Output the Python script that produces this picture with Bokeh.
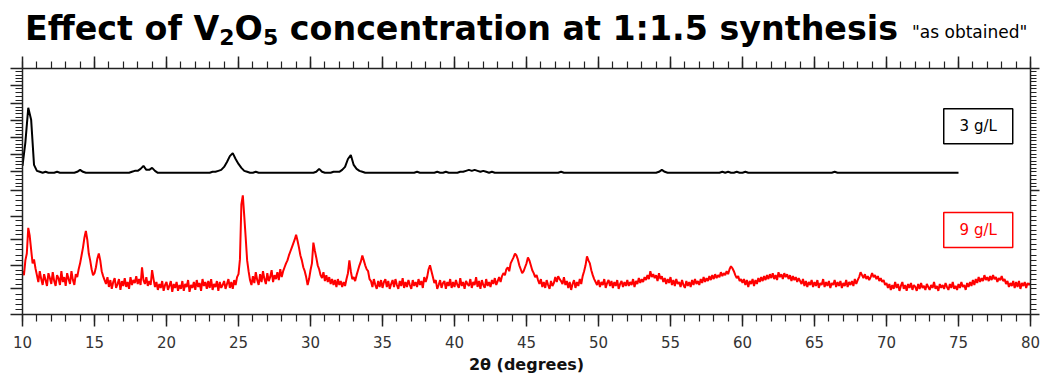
import numpy as np
from bokeh.plotting import figure
from bokeh.layouts import column
from bokeh.models import Range1d, LinearAxis, FixedTicker, Div, CustomLabelingPolicy
from bokeh.embed import file_html
from bokeh.resources import INLINE
from bokeh.core.properties import value

# ---------------- data ----------------
start_3gL, step_3gL = 10.0, 0.2
start_9gL, step_9gL = 10.0, 0.1

# 3 g/L pattern (offset upward), 10.0 .. 75.0 deg, every 0.2 deg
counts_3gL = [
    151, 175, 210, 198, 152, 146, 145, 144, 145, 144,   # 10.0
    144, 144, 145, 144, 144, 144, 144, 144, 144, 145,   # 12.0
    147, 145, 144, 144, 144, 144, 144, 144, 144, 144,   # 14.0
    144, 144, 144, 144, 144, 144, 144, 144, 145, 146,   # 16.0
    146, 148, 151, 147, 147, 149, 146, 144, 144, 144,   # 18.0
    144, 144, 144, 144, 144, 144, 144, 144, 144, 144,   # 20.0
    144, 144, 144, 144, 144, 144, 145, 145, 146, 147,   # 22.0
    150, 155, 161, 164, 158, 153, 149, 146, 145, 144,   # 24.0
    144, 145, 144, 144, 144, 144, 144, 144, 144, 144,   # 26.0
    144, 144, 144, 144, 144, 144, 144, 144, 144, 144,   # 28.0
    144, 144, 145, 148, 145, 144, 144, 144, 145, 145,   # 30.0
    145, 147, 150, 158, 162, 152, 148, 146, 145, 144,   # 32.0
    144, 144, 144, 144, 144, 144, 144, 144, 144, 144,   # 34.0
    144, 144, 144, 144, 144, 144, 144, 145, 144, 144,   # 36.0
    144, 144, 144, 144, 145, 144, 144, 145, 144, 144,   # 38.0
    144, 144, 145, 145, 146, 147, 146, 147, 146, 145,   # 40.0
    146, 145, 144, 145, 144, 144, 144, 144, 144, 144,   # 42.0
    144, 144, 144, 144, 144, 144, 144, 144, 144, 144,   # 44.0
    144, 144, 144, 144, 144, 144, 144, 145, 144, 144,   # 46.0
    144, 144, 144, 144, 144, 144, 144, 144, 144, 144,   # 48.0
    144, 144, 144, 144, 144, 144, 144, 144, 144, 144,   # 50.0
    144, 144, 144, 144, 144, 144, 144, 144, 144, 144,   # 52.0
    144, 145, 147, 145, 144, 144, 144, 144, 144, 144,   # 54.0
    144, 144, 144, 144, 144, 144, 144, 144, 144, 144,   # 56.0
    144, 144, 144, 145, 144, 145, 144, 144, 145, 144,   # 58.0
    144, 145, 144, 144, 144, 144, 144, 144, 144, 144,   # 60.0
    144, 144, 144, 144, 144, 144, 144, 144, 144, 144,   # 62.0
    144, 144, 144, 144, 144, 144, 144, 144, 144, 144,   # 64.0
    144, 144, 145, 144, 144, 144, 144, 144, 144, 144,   # 66.0
    144, 144, 144, 144, 144, 144, 144, 144, 144, 144,   # 68.0
    144, 144, 144, 144, 144, 144, 144, 144, 144, 144,   # 70.0
    144, 144, 144, 144, 144, 144, 144, 144, 144, 144,   # 72.0
    144, 144, 144, 144, 144, 144,                       # 74.0 .. 75.0
]

# 9 g/L pattern, 10.0 .. 80.0 deg, every 0.1 deg
counts_9gL = [
    44, 40, 55, 62, 88, 80, 66, 52, 56, 47,   # 10
    40, 33, 44, 36, 30, 41, 35, 29, 42, 37,   # 11
    31, 43, 34, 29, 40, 37, 30, 44, 33, 38,   # 12
    29, 42, 36, 31, 44, 35, 30, 41, 38, 46,   # 13
    52, 60, 68, 78, 85, 76, 62, 55, 46, 40,   # 14
    42, 48, 57, 62, 55, 44, 39, 35, 31, 38,   # 15
    28, 35, 26, 33, 37, 27, 31, 36, 25, 34,   # 16
    29, 37, 28, 33, 26, 38, 30, 35, 32, 39,   # 17
    31, 36, 30, 48, 35, 31, 38, 29, 34, 30,   # 18
    45, 36, 28, 33, 25, 31, 27, 34, 24, 30,   # 19
    33, 25, 29, 34, 23, 31, 27, 33, 24, 30,   # 20
    26, 34, 24, 31, 28, 35, 23, 30, 27, 33,   # 21
    25, 35, 28, 32, 24, 36, 29, 33, 26, 34,   # 22
    27, 36, 25, 31, 28, 34, 24, 33, 27, 30,   # 23
    34, 26, 31, 36, 27, 33, 26, 35, 30, 38,   # 24
    41, 56, 112, 121, 100, 78, 55, 44, 35, 30,  # 25
    39, 32, 43, 35, 30, 41, 33, 44, 36, 31,   # 26
    42, 34, 38, 45, 33, 40, 36, 43, 35, 46,   # 27
    38, 44, 48, 52, 55, 60, 64, 68, 72, 76,   # 28
    81, 75, 68, 60, 55, 48, 44, 38, 30, 36,   # 29
    45, 52, 73, 65, 58, 50, 46, 40, 37, 43,   # 30
    34, 40, 33, 38, 31, 36, 30, 35, 28, 36,   # 31
    30, 34, 28, 33, 29, 36, 42, 55, 44, 36,   # 32
    38, 34, 40, 45, 50, 54, 60, 55, 50, 46,   # 33
    44, 36, 34, 28, 36, 30, 26, 34, 28, 35,   # 34
    27, 33, 36, 28, 34, 26, 31, 35, 28, 36,   # 35
    30, 26, 34, 29, 37, 27, 33, 28, 35, 30,   # 36
    26, 35, 29, 33, 28, 36, 30, 34, 27, 38,   # 37
    33, 38, 46, 50, 44, 38, 32, 35, 26, 30,   # 38
    35, 27, 32, 34, 26, 33, 29, 36, 27, 33,   # 39
    28, 35, 30, 27, 37, 29, 33, 26, 34, 31,   # 40
    29, 36, 27, 33, 30, 38, 28, 34, 26, 35,   # 41
    30, 27, 36, 29, 33, 28, 35, 31, 37, 30,   # 42
    34, 38, 33, 39, 42, 40, 46, 48, 44, 52,   # 43
    55, 58, 62, 60, 56, 50, 46, 42, 44, 48,   # 44
    52, 58, 55, 50, 45, 42, 38, 40, 35, 31,   # 45
    36, 28, 33, 27, 35, 30, 26, 34, 29, 32,   # 46
    38, 33, 39, 36, 34, 31, 38, 30, 34, 27,   # 47
    33, 25, 31, 35, 27, 33, 29, 36, 31, 39,   # 48
    44, 50, 59, 55, 52, 45, 40, 36, 33, 30,   # 49
    35, 28, 33, 30, 36, 27, 32, 35, 29, 34,   # 50
    27, 33, 29, 35, 26, 31, 34, 28, 33, 29,   # 51
    35, 29, 33, 30, 36, 28, 34, 31, 37, 32,   # 52
    36, 33, 38, 35, 40, 36, 44, 38, 41, 37,   # 53
    40, 34, 42, 36, 39, 33, 37, 31, 36, 32,   # 54
    38, 30, 35, 29, 36, 31, 33, 28, 35, 30,   # 55
    27, 34, 29, 33, 28, 35, 30, 36, 31, 34,   # 56
    30, 36, 32, 38, 33, 37, 34, 39, 35, 40,   # 57
    36, 41, 37, 40, 38, 43, 39, 42, 40, 44,   # 58
    41, 46, 49, 47, 44, 40, 37, 39, 34, 36,   # 59
    32, 36, 30, 35, 28, 34, 31, 36, 29, 35,   # 60
    31, 37, 33, 38, 34, 39, 35, 40, 36, 41,   # 61
    37, 42, 36, 40, 35, 43, 38, 41, 36, 42,   # 62
    38, 41, 36, 40, 34, 39, 35, 38, 33, 37,   # 63
    34, 31, 36, 29, 34, 28, 33, 30, 35, 28,   # 64
    33, 29, 35, 27, 32, 30, 36, 28, 33, 29,   # 65
    34, 27, 32, 30, 35, 28, 33, 29, 34, 27,   # 66
    32, 29, 35, 28, 33, 30, 34, 29, 36, 31,   # 67
    35, 38, 43, 40, 37, 41, 36, 39, 35, 38,   # 68
    42, 38, 40, 36, 39, 34, 37, 33, 35, 30,   # 69
    32, 27, 31, 25, 30, 26, 33, 27, 31, 24,   # 70
    29, 33, 26, 30, 24, 31, 27, 32, 25, 30,   # 71
    28, 24, 31, 26, 32, 27, 29, 25, 31, 28,   # 72
    25, 30, 27, 33, 26, 29, 24, 31, 27, 30,   # 73
    26, 32, 28, 25, 31, 27, 33, 26, 29, 25,   # 74
    31, 27, 33, 28, 30, 25, 32, 28, 33, 29,   # 75
    35, 30, 36, 32, 38, 33, 37, 34, 40, 35,   # 76
    38, 34, 39, 35, 40, 36, 38, 33, 37, 35,   # 77
    39, 34, 36, 31, 34, 28, 32, 29, 34, 27,   # 78
    33, 28, 34, 26, 32, 29, 33, 27, 32, 30,   # 79
    32,                                       # 80
]

series_labels = ["3 g/L", "9 g/L"]
series_colors = ["#000000", "#ff0000"]
x_major_ticks = [10, 15, 20, 25, 30, 35, 40, 45, 50, 55, 60, 65, 70, 75, 80]
x_minor_ticks = list(range(10, 81))
y_major_ticks = [0, 26, 50, 76, 100, 126, 145, 163, 180, 197, 214, 233, 250]

title_parts = ["Effect of V", "2", "O", "5", " concentration at 1:1.5 synthesis"]
subtitle_text = '"as obtained"'
x_label = "2\u03b8 (degrees)"

FONT = "DejaVu Sans"

# ---------------- title (HTML, for real subscripts) ----------------
sub_style = "font-size:22px; vertical-align:-5px; line-height:0;"
title_html = (
    '<div style="font-family:\'DejaVu Sans\'; white-space:nowrap; color:#000;'
    ' padding-left:25px; padding-top:13px; line-height:32px;">'
    '<span style="font-size:33.3px; font-weight:bold;">'
    + title_parts[0] + '<sub style="' + sub_style + '">' + title_parts[1] + '</sub>'
    + title_parts[2] + '<sub style="' + sub_style + '">' + title_parts[3] + '</sub>'
    + title_parts[4] + '</span>'
    '<span style="font-size:17px; margin-left:14px; position:relative; top:-2px;">'
    + subtitle_text + '</span></div>'
)
header = Div(text=title_html, width=1042, height=50, margin=0)

# ---------------- figure ----------------
x3 = start_3gL + step_3gL * np.arange(len(counts_3gL))
x9 = start_9gL + step_9gL * np.arange(len(counts_9gL))

p = figure(width=1042, height=326, output_backend="svg", toolbar_location=None,
           x_range=Range1d(10, 80), y_range=Range1d(0, 250),
           x_axis_type=None, y_axis_type=None,
           min_border_left=22, min_border_right=12,
           min_border_top=18, min_border_bottom=58, margin=0)
p.outline_line_color = None
p.background_fill_color = "white"
p.border_fill_color = "white"

axis_color = "#222222"

xt = FixedTicker(ticks=x_major_ticks, minor_ticks=x_minor_ticks)
y_minor = [a + (b - a) * k / 5.0 for a, b in zip(y_major_ticks[:-1], y_major_ticks[1:]) for k in range(1, 5)]
yt = FixedTicker(ticks=y_major_ticks, minor_ticks=y_minor)
yt_right = FixedTicker(ticks=[0, 126, 250], minor_ticks=y_minor + y_major_ticks)

no_labels = CustomLabelingPolicy(code="return new indices.constructor(indices.size)")


def style_axis(ax, major_out, minor_out, labels=False):
    ax.axis_line_color = axis_color
    ax.axis_line_width = 1.5
    ax.major_tick_line_color = axis_color
    ax.minor_tick_line_color = axis_color
    ax.major_tick_line_width = 1.5
    ax.minor_tick_line_width = 1.2
    ax.major_tick_out = major_out
    ax.major_tick_in = 0
    ax.minor_tick_out = minor_out
    ax.minor_tick_in = 0
    if not labels:
        ax.major_label_policy = no_labels
        ax.major_label_text_font_size = "0px"
        ax.major_label_standoff = 0


bottom = LinearAxis(ticker=xt, axis_label=x_label)
style_axis(bottom, 12, 7, labels=True)
bottom.major_label_text_font = FONT
bottom.major_label_text_font_size = "15px"
bottom.major_label_text_color = "#333333"
bottom.major_label_standoff = 9
bottom.axis_label_text_font = FONT
bottom.axis_label_text_font_style = "bold"
bottom.axis_label_text_font_size = "16px"
bottom.axis_label_text_color = "#111111"
bottom.axis_label_standoff = 4
p.add_layout(bottom, "below")

top = LinearAxis(ticker=xt)
style_axis(top, 12, 7)
p.add_layout(top, "above")

left = LinearAxis(ticker=yt)
style_axis(left, 12, 7)
p.add_layout(left, "left")

right = LinearAxis(ticker=yt_right)
style_axis(right, 9, 6)
p.add_layout(right, "right")

p.line(x3, counts_3gL, line_color=series_colors[0], line_width=2)
p.line(x9, counts_9gL, line_color=series_colors[1], line_width=2)

# legend boxes
legend_x = 76.37
legend_y = [191.3, 86.0]
p.rect(x=[legend_x] * 2, y=legend_y, width=69, height=35,
       width_units="screen", height_units="screen",
       fill_color="white", line_color=series_colors, line_width=1.5)
p.text(x=[legend_x] * 2, y=legend_y, text=series_labels,
       text_color=series_colors, text_font=value(FONT), text_font_size="15px",
       text_align="center", text_baseline="middle")

layout = column(header, p, spacing=0, margin=0)
open("out.html", "w").write(file_html(layout, INLINE))
